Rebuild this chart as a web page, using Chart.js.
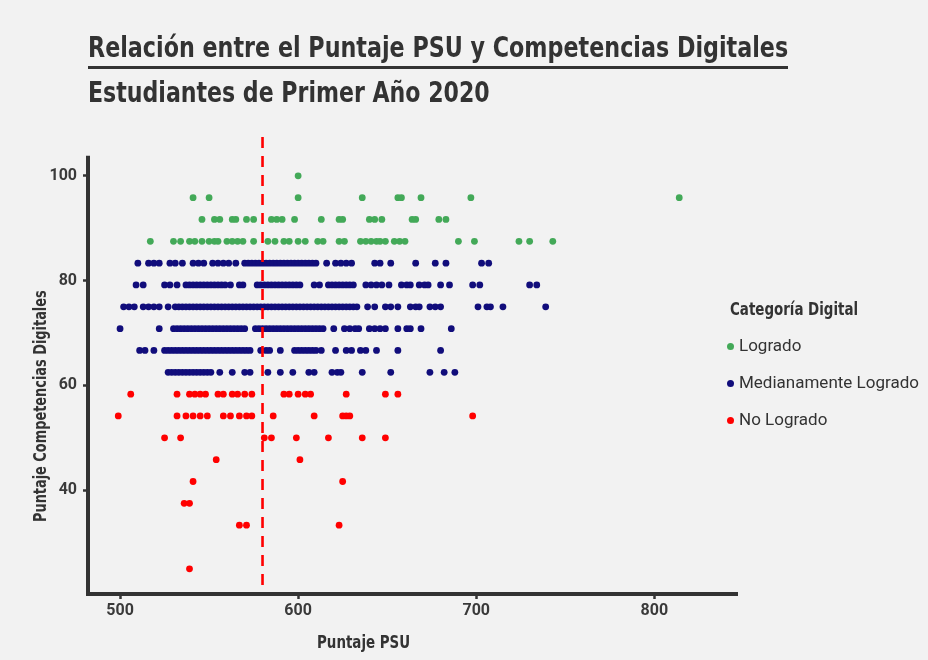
<!DOCTYPE html>
<html>
<head>
<meta charset="utf-8">
<script src="https://cdn.jsdelivr.net/npm/chart.js@4.4.1/dist/chart.umd.min.js"></script>
<style>
  html, body { margin: 0; padding: 0; background: #f2f2f2; }
  #wrap { position: relative; width: 928px; height: 660px; overflow: hidden; background: #f2f2f2; }
  #c { position: absolute; left: 0; top: 0; }
  .txt { position: absolute; white-space: nowrap; line-height: 1; color: #333; transform-origin: 0 0; }
  .cond { font-family: "Liberation Sans Narrow", "DejaVu Sans Condensed", Roboto, sans-serif; font-weight: bold; }
  .reg { font-family: Roboto, "Noto Sans", sans-serif; font-weight: normal; }
  .dot { position: absolute; width: 7px; height: 7px; border-radius: 50%; }
  #uline { position: absolute; left: 88px; top: 66px; width: 700px; height: 3px; background: #333; }
</style>
</head>
<body>
<div id="wrap">
  <canvas id="c" width="928" height="660"></canvas>
  <div class="txt cond" id="t1" data-w="700" style="left:88px; top:33px; font-size:29px;">Relación entre el Puntaje PSU y Competencias Digitales</div>
  <div id="uline"></div>
  <div class="txt cond" id="t2" data-w="402" style="left:88px; top:78px; font-size:29px;">Estudiantes de Primer Año 2020</div>
  <div class="txt cond" id="xt" data-w="93" style="left:317px; top:634px; font-size:17px;">Puntaje PSU</div>
  <div class="txt cond" id="yt" data-w="232" style="left:32px; top:522px; font-size:17px; transform-origin:0 0;">Puntaje Competencias Digitales</div>
  <div id="legend"></div>
</div>
<script>
// ---------- DATA ----------
const categories = ["Logrado", "Medianamente Logrado", "No Logrado"];
const categoryColors = ["#43a958", "#110d7b", "#ff0000"];
const xTickValues = [500, 600, 700, 800];
const yTickValues = [40, 60, 80, 100];
const psuCutoff = 580;

// rows: [Puntaje Competencias Digitales, [Puntaje PSU of each student]]
const logradoRows = [
  [100.00, [600]],
  [95.83, [541, 550, 600, 636, 656, 658, 669, 697, 814]],
  [91.67, [546, 553, 556, 563, 565, 571, 575, 585, 588, 591, 598, 613, 623, 625, 640, 643, 647, 664, 666, 679, 683]],
  [87.50, [517, 530, 534, 539, 542, 546, 550, 553, 555, 560, 563, 566, 569, 575, 583, 587, 592, 595, 600, 604, 611, 614, 623, 626, 635, 638, 641, 644, 646, 649, 654, 657, 660, 690, 699, 724, 730, 743]]
];
const medianamenteRows = [
  [83.33, [510, 516, 519, 522, 528, 531, 535, 541, 544, 547, 552, 555, 558, 561, 565, 570, 572, 574, 576, 578, 580, 582, 584, 586, 588, 590, 592, 594, 596, 598, 600, 602, 604, 606, 608, 610, 616, 621, 624, 627, 630, 643, 646, 652, 666, 677, 683, 703, 707]],
  [79.17, [509, 513, 525, 528, 532, 537, 539, 541, 543, 545, 547, 549, 551, 553, 555, 557, 559, 562, 567, 569, 577, 579, 581, 583, 585, 587, 589, 591, 593, 595, 597, 599, 601, 609, 612, 617, 619, 621, 623, 625, 627, 629, 631, 638, 641, 644, 647, 651, 658, 661, 663, 668, 671, 673, 680, 685, 698, 702, 730, 734]],
  [75.00, [502, 505, 508, 513, 516, 519, 522, 527, 531, 533, 535, 537, 539, 541, 543, 545, 547, 549, 551, 553, 555, 557, 559, 561, 563, 565, 567, 569, 571, 573, 575, 577, 579, 581, 583, 585, 587, 589, 591, 593, 595, 597, 599, 601, 603, 605, 607, 609, 611, 613, 615, 617, 619, 621, 623, 625, 627, 629, 631, 633, 639, 643, 649, 652, 656, 663, 666, 668, 674, 677, 680, 701, 706, 708, 715, 739]],
  [70.83, [500, 522, 530, 532, 534, 536, 538, 540, 542, 544, 546, 548, 550, 552, 554, 556, 558, 560, 562, 564, 566, 568, 570, 576, 578, 580, 582, 584, 586, 588, 590, 592, 594, 596, 598, 600, 602, 604, 606, 608, 610, 612, 614, 620, 626, 629, 632, 634, 640, 643, 646, 649, 656, 661, 663, 669, 686]],
  [66.67, [511, 514, 519, 525, 527, 529, 531, 533, 535, 537, 539, 541, 543, 545, 547, 549, 551, 553, 555, 557, 559, 561, 563, 565, 567, 569, 571, 573, 579, 582, 584, 590, 598, 600, 602, 604, 606, 608, 610, 613, 621, 627, 630, 635, 638, 644, 656, 680]],
  [62.50, [527, 529, 531, 533, 535, 537, 539, 541, 543, 545, 547, 549, 551, 556, 563, 570, 573, 583, 590, 597, 606, 609, 619, 622, 624, 636, 652, 674, 682, 688]]
];
const noLogradoRows = [
  [58.33, [506, 532, 539, 542, 545, 548, 555, 558, 563, 566, 570, 574, 592, 595, 600, 604, 607, 627, 649, 656]],
  [54.17, [499, 532, 537, 541, 545, 549, 558, 562, 567, 571, 574, 586, 609, 625, 627, 629, 698]],
  [50.00, [525, 534, 581, 585, 599, 617, 636, 649]],
  [45.83, [554, 601]],
  [41.67, [541, 625]],
  [37.50, [536, 539]],
  [33.33, [567, 571, 623]],
  [25.00, [539]]
];

// ---------- CHART ----------
const toPoints = rows => rows.flatMap(([y, xs]) => xs.map(x => ({ x: x, y: y })));
const allRows = [logradoRows, medianamenteRows, noLogradoRows];

const dashLinePlugin = {
  id: 'decor',
  afterDatasetsDraw(chart) {
    const { ctx, chartArea, scales } = chart;
    const x = scales.x.getPixelForValue(psuCutoff);
    ctx.save();
    ctx.strokeStyle = '#ff0000';
    ctx.lineWidth = 2.6;
    ctx.setLineDash([11, 8]);
    ctx.beginPath();
    ctx.moveTo(x, chartArea.top);
    ctx.lineTo(x, chartArea.bottom);
    ctx.stroke();
    ctx.restore();
    // axis lines
    ctx.save();
    ctx.strokeStyle = '#333333';
    ctx.lineWidth = 4;
    ctx.lineCap = 'butt';
    const yTop = scales.y.getPixelForValue(103.8);
    ctx.beginPath();
    ctx.moveTo(chartArea.left, yTop);
    ctx.lineTo(chartArea.left, chartArea.bottom + 2);
    ctx.moveTo(chartArea.left - 2, chartArea.bottom);
    ctx.lineTo(chartArea.right, chartArea.bottom);
    ctx.stroke();
    ctx.restore();
  }
};

const tickFont = { family: 'Roboto', size: 16, weight: 'bold' };

new Chart(document.getElementById('c'), {
  type: 'scatter',
  data: {
    datasets: categories.map((name, i) => ({
      label: name,
      data: toPoints(allRows[i]),
      backgroundColor: categoryColors[i],
      borderWidth: 0,
      pointRadius: 3.4,
      pointHoverRadius: 3.4
    }))
  },
  options: {
    responsive: false,
    animation: false,
    events: [],
    layout: { padding: { left: 0, right: 190, top: 137, bottom: 0 } },
    plugins: { legend: { display: false }, tooltip: { enabled: false }, title: { display: false } },
    scales: {
      x: {
        type: 'linear', min: 482, max: 847,
        afterBuildTicks: s => { s.ticks = xTickValues.map(v => ({ value: v })); },
        afterFit: s => { s.height = 66; },
        border: { display: false },
        grid: { display: true, drawOnChartArea: false, drawTicks: true, tickLength: 5, tickColor: '#333', tickWidth: 2.5 },
        ticks: { font: tickFont, color: '#3a3a3a', padding: 2 }
      },
      y: {
        type: 'linear', min: 20.2, max: 107.4,
        afterBuildTicks: s => { s.ticks = yTickValues.map(v => ({ value: v })); },
        afterFit: s => { s.width = 88; },
        border: { display: false },
        grid: { display: true, drawOnChartArea: false, drawTicks: true, tickLength: 5, tickColor: '#333', tickWidth: 2.5 },
        ticks: { font: tickFont, color: '#3a3a3a', padding: 6 }
      }
    }
  },
  plugins: [dashLinePlugin]
});

// ---------- LEGEND (HTML) ----------
const legend = document.getElementById('legend');
const lt = document.createElement('div');
lt.className = 'txt cond';
lt.textContent = 'Categoría Digital';
lt.dataset.w = 128;
lt.style.cssText = 'left:730px; top:301px; font-size:17px;';
legend.appendChild(lt);
categories.forEach((name, i) => {
  const cy = 346 + i * 37;
  const d = document.createElement('div');
  d.className = 'dot';
  d.style.left = (730 - 3.5) + 'px';
  d.style.top = (cy - 3.5) + 'px';
  d.style.background = categoryColors[i];
  legend.appendChild(d);
  const t = document.createElement('div');
  t.className = 'txt reg';
  t.textContent = name;
  t.style.cssText = `left:739px; top:${cy - 9}px; font-size:17px;`;
  legend.appendChild(t);
});

// fit condensed texts to the measured widths
function fitAll() {
  document.querySelectorAll('[data-w]').forEach(el => {
    const target = parseFloat(el.dataset.w);
    const w = el.offsetWidth;
    if (el.id === 'yt') {
      el.style.transform = `rotate(-90deg) scaleX(${target / w})`;
    } else {
      el.style.transform = `scaleX(${target / w})`;
    }
  });
}
fitAll();
</script>
</body>
</html>
